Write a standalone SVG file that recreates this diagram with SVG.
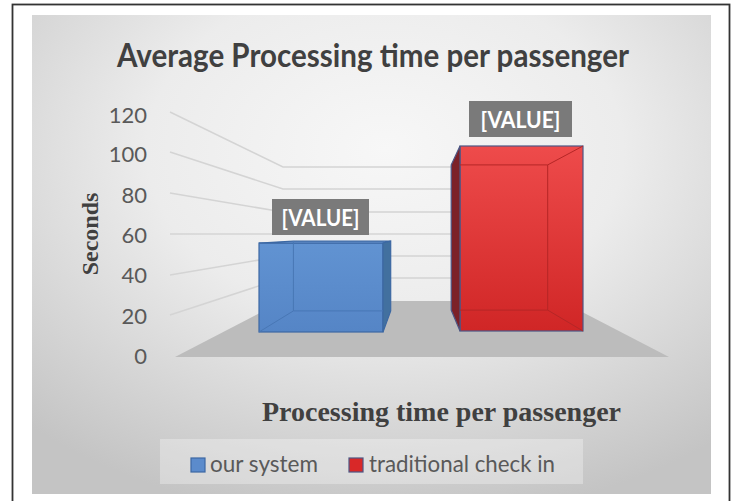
<svg xmlns="http://www.w3.org/2000/svg" width="735" height="501" viewBox="0 0 735 501">
  <defs>
    <radialGradient id="bg" cx="52%" cy="28%" r="78%">
      <stop offset="0" stop-color="#f7f7f7"/>
      <stop offset="0.45" stop-color="#ececec"/>
      <stop offset="1" stop-color="#c4c4c4"/>
    </radialGradient>
    <linearGradient id="redFront" x1="0" y1="0" x2="0" y2="1">
      <stop offset="0" stop-color="#ee4b4b"/>
      <stop offset="1" stop-color="#d02626"/>
    </linearGradient>
    <linearGradient id="blueFront" x1="0" y1="0" x2="0" y2="1">
      <stop offset="0" stop-color="#6193d2"/>
      <stop offset="1" stop-color="#5585c6"/>
    </linearGradient>
  </defs>
  <style>
    .grid { fill: none; stroke: #d4d4d4; stroke-width: 1.5; }
    .tick { font-family: Lato, "Liberation Sans", sans-serif; font-size: 22px; fill: #595959; text-anchor: end; }
    .lbl { fill: #7a7a7a; }
    .lbltxt { font-family: Lato, "Liberation Sans", sans-serif; font-weight: bold; font-size: 22px; fill: #ffffff; text-anchor: middle; }
    .axisTitle { font-family: "Liberation Serif", serif; font-weight: bold; fill: #404040; }
    .leg { font-family: Lato, "Liberation Sans", sans-serif; font-size: 23px; fill: #595959; }
    .blueEdge { stroke: #3c68a3; stroke-width: 1.2; }
    .redEdge { stroke: #4d5684; stroke-width: 1.2; }
    .blueInner { fill: none; stroke: #4877b5; stroke-width: 1; }
    .redInner { fill: none; stroke: #b52626; stroke-width: 1; }
  </style>

  <rect x="12.5" y="4.5" width="717" height="500" fill="#ffffff" stroke="#333333" stroke-width="1.8"/>

  <g id="chart-area">
    <rect x="32" y="15" width="679" height="479" fill="url(#bg)"/>
  </g>

  <g id="title">
    <text x="373" y="67" text-anchor="middle" font-family="Lato, 'Liberation Sans', sans-serif" font-weight="bold" font-size="33" fill="#404040" textLength="512" lengthAdjust="spacingAndGlyphs">Average Processing time per passenger</text>
  </g>

  <g id="floor">
    <polygon points="175,357 669,357 561,301 283,301" fill="#bcbcbc"/>
  </g>

  <g id="gridlines">
    <polyline class="grid" points="170,112 283,167 561,167"/>
    <polyline class="grid" points="170,152 283,189 561,189"/>
    <polyline class="grid" points="170,193 283,212 561,212"/>
    <polyline class="grid" points="170,234 283,234 561,234"/>
    <polyline class="grid" points="170,275 283,256 561,256"/>
    <polyline class="grid" points="170,315 283,278 561,278"/>
  </g>

  <g id="y-axis">
    <text class="tick" x="147" y="123">120</text>
    <text class="tick" x="147" y="162">100</text>
    <text class="tick" x="147" y="203">80</text>
    <text class="tick" x="147" y="243">60</text>
    <text class="tick" x="147" y="283">40</text>
    <text class="tick" x="147" y="324">20</text>
    <text class="tick" x="147" y="364">0</text>
    <text class="axisTitle" font-size="24" text-anchor="middle" transform="translate(98,234) rotate(-90)">Seconds</text>
  </g>

  <g id="bar-our-system">
    <rect x="259" y="243" width="124" height="89" fill="url(#blueFront)" class="blueEdge"/>
    <polygon points="259,243 293.4,241.1 390.7,241.1 383,243" fill="#6e9bd6" class="blueEdge"/>
    <polygon points="383,243 390.7,241.1 390.7,310.9 383,332" fill="#42709f" class="blueEdge"/>
    <polyline class="blueInner" points="259,332 293.4,310.9 383,310.9"/>
    <line class="blueInner" x1="293.4" y1="241.1" x2="293.4" y2="310.9"/>
  </g>

  <g id="bar-traditional">
    <rect x="460" y="146" width="123" height="185" fill="url(#redFront)" class="redEdge"/>
    <polygon points="451.2,164.9 460,146 460,331 451.2,310.1" fill="#7c2128" class="redEdge"/>
    <polyline class="redInner" points="460,164.9 547.7,164.9 583,146"/>
    <polyline class="redInner" points="460,310.1 547.7,310.1 583,331"/>
    <line class="redInner" x1="547.7" y1="164.9" x2="547.7" y2="310.1"/>
  </g>

  <g id="label-our-system">
    <rect class="lbl" x="272" y="199" width="97" height="36"/>
    <text class="lbltxt" x="320.5" y="225.5" textLength="78" lengthAdjust="spacingAndGlyphs">[VALUE]</text>
  </g>

  <g id="label-traditional">
    <rect class="lbl" x="469" y="101" width="103" height="36"/>
    <text class="lbltxt" x="520.5" y="127.5" textLength="80" lengthAdjust="spacingAndGlyphs">[VALUE]</text>
  </g>

  <g id="x-axis-title">
    <text class="axisTitle" font-size="28" x="262" y="421" textLength="359" lengthAdjust="spacingAndGlyphs">Processing time per passenger</text>
  </g>

  <g id="legend">
    <rect x="160" y="439" width="423" height="45" fill="#ffffff" fill-opacity="0.3"/>
    <rect x="191" y="458" width="14" height="14" fill="#5b8bcc" stroke="#3c68a3" stroke-width="1.2"/>
    <text class="leg" x="210" y="472" textLength="108" lengthAdjust="spacingAndGlyphs">our system</text>
    <rect x="349" y="458" width="14" height="14" fill="#d92828" stroke="#4d5684" stroke-width="1.2"/>
    <text class="leg" x="369" y="472" textLength="186" lengthAdjust="spacingAndGlyphs">traditional check in</text>
  </g>
</svg>
